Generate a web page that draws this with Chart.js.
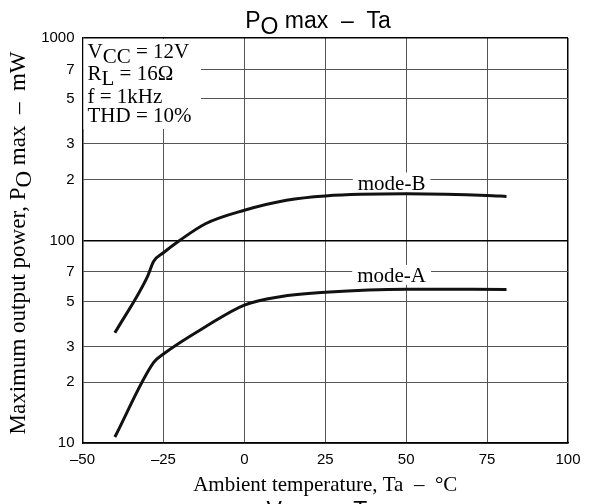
<!DOCTYPE html>
<html>
<head>
<meta charset="utf-8">
<script src="https://cdn.jsdelivr.net/npm/chart.js@4/dist/chart.umd.min.js"></script>
<style>
  html, body { margin: 0; padding: 0; background: #fff; }
  #wrap { width: 589px; height: 504px; position: relative; }
</style>
</head>
<body>
<div id="wrap"><canvas id="c" width="589" height="504"></canvas></div>
<script>
// ---- data ----
const tempsB = [-40, -30, -28, -25, -20, -12, 0, 13, 25, 50, 75, 81];
const powerB = [35, 66, 79, 87, 100, 121, 141, 158, 166, 170, 167, 165];
const tempsA = [-40, -28, -25, -12, 0, 11, 25, 50, 81];
const powerA = [10.7, 25, 27.5, 37.5, 48, 52.8, 55.5, 57.5, 57.3];
const xTicks = [-50, -25, 0, 25, 50, 75, 100];
const yTicks = [10, 20, 30, 50, 70, 100, 200, 300, 500, 700, 1000];
const seriesNames = ['mode-A', 'mode-B'];
const labelAnchors = [[45.5, 70], [45.5, 200]]; // where the curve names sit
const conditions = [
  [['V'], ['CC', 1], [' = 12V']],
  [['R'], ['L', 1], [' = 16Ω']],
  [['f = 1kHz']],
  [['THD = 10%']]
];

const SERIF = '"Liberation Serif", "DejaVu Serif", serif';
const SANS = '"Liberation Sans", Arial, sans-serif';

function drawRich(ctx, parts, x, y, size, family, align) {
  ctx.font = size + 'px ' + family;
  let total = 0;
  parts.forEach(p => total += ctx.measureText(p[0]).width);
  let cx = align === 'center' ? x - total / 2 : x;
  ctx.textAlign = 'left';
  ctx.textBaseline = 'alphabetic';
  parts.forEach(p => {
    const dy = p[1] ? size * 0.24 : 0;
    ctx.fillText(p[0], cx, y + dy);
    cx += ctx.measureText(p[0]).width;
  });
}

const decor = {
  id: 'decor',
  beforeDatasetsDraw(chart) {
    const ctx = chart.ctx, a = chart.chartArea;
    const xs = chart.scales.x, ys = chart.scales.y;
    ctx.save();
    ctx.fillStyle = '#fff';
    // conditions box (white, hides grid)
    ctx.fillRect(a.left + 1, a.top + 1, 201 - a.left - 1, 129 - a.top - 1);
    // label backgrounds
    ctx.font = '21px ' + SERIF;
    labelAnchors.forEach((p, i) => {
      const w = ctx.measureText(seriesNames[i]).width + 10;
      const px = xs.getPixelForValue(p[0]);
      const py = ys.getPixelForValue(p[1]);
      ctx.fillRect(px - w / 2, py - 7, w, 20);
    });
    ctx.restore();
  },
  afterDatasetsDraw(chart) {
    const ctx = chart.ctx, a = chart.chartArea;
    const xs = chart.scales.x, ys = chart.scales.y;
    ctx.save();
    ctx.fillStyle = '#000';
    // series labels
    ctx.font = '21px ' + SERIF;
    ctx.textAlign = 'center';
    ctx.textBaseline = 'middle';
    labelAnchors.forEach((p, i) => {
      ctx.fillText(seriesNames[i], xs.getPixelForValue(p[0]), ys.getPixelForValue(p[1]) + 5);
    });
    // conditions
    const baselines = [58, 80, 103, 122];
    conditions.forEach((parts, i) => drawRich(ctx, parts, a.left + 5, baselines[i], 21, SERIF, 'left'));
    // title
    drawRich(ctx, [['P'], ['O', 1], [' max  –  Ta']], 318, 28, 23, SANS, 'center');
    // x axis title
    drawRich(ctx, [['Ambient temperature, Ta  –  °C']], (a.left + a.right) / 2, 491, 21, SERIF, 'center');
    // y axis title (rotated)
    ctx.translate(25, 243);
    ctx.rotate(-Math.PI / 2);
    drawRich(ctx, [['Maximum output power, P'], ['O', 1], [' max  –  mW']], 0, 0, 23, SERIF, 'center');
    ctx.restore();
    // cut-off next title at the bottom
    ctx.save();
    ctx.fillStyle = '#000';
    drawRich(ctx, [['V'], ['CC', 1], ['  –  Ta']], 322, 518, 23, SANS, 'center');
    ctx.restore();
  }
};

const gridCol = (v, major) => major.includes(v) ? '#000' : '#555';

new Chart(document.getElementById('c'), {
  type: 'line',
  data: {
    datasets: [
      {
        label: seriesNames[1],
        data: tempsB.map((t, i) => ({ x: t, y: powerB[i] })),
        borderColor: '#111', borderWidth: 3, pointRadius: 0,
        cubicInterpolationMode: 'monotone', fill: false
      },
      {
        label: seriesNames[0],
        data: tempsA.map((t, i) => ({ x: t, y: powerA[i] })),
        borderColor: '#111', borderWidth: 3, pointRadius: 0,
        cubicInterpolationMode: 'monotone', fill: false
      }
    ]
  },
  options: {
    responsive: false,
    animation: false,
    devicePixelRatio: 1,
    layout: { padding: { left: 0, top: 38, right: 21, bottom: 0 } },
    plugins: { legend: { display: false }, title: { display: false }, tooltip: { enabled: false } },
    scales: {
      x: {
        type: 'linear', min: -50, max: 100,
        afterBuildTicks: s => { s.ticks = xTicks.map(v => ({ value: v })); },
        afterFit: s => { s.height = 61; },
        grid: {
          drawTicks: false,
          color: c => gridCol(c.tick && c.tick.value, [100]),
          lineWidth: c => (c.tick && c.tick.value === 100) ? 1.5 : 1
        },
        border: { color: '#000', width: 1.5 },
        ticks: {
          padding: 8, color: '#000', maxRotation: 0,
          font: { family: SANS, size: 15 },
          callback: v => (v < 0 ? '–' + Math.abs(v) : String(v))
        }
      },
      y: {
        type: 'logarithmic', min: 10, max: 1000,
        afterBuildTicks: s => { s.ticks = yTicks.map(v => ({ value: v })); },
        afterFit: s => { s.width = 82.5; },
        grid: {
          drawTicks: false,
          color: c => gridCol(c.tick && c.tick.value, [100, 1000]),
          lineWidth: c => (c.tick && (c.tick.value === 100 || c.tick.value === 1000)) ? 1.5 : 1
        },
        border: { color: '#000', width: 1.5 },
        ticks: {
          padding: 8, color: '#000',
          font: { family: SANS, size: 15 },
          callback: v => (v === 10 || v === 100 || v === 1000) ? String(v) : String(v).charAt(0)
        }
      }
    }
  },
  plugins: [decor]
});
</script>
</body>
</html>
